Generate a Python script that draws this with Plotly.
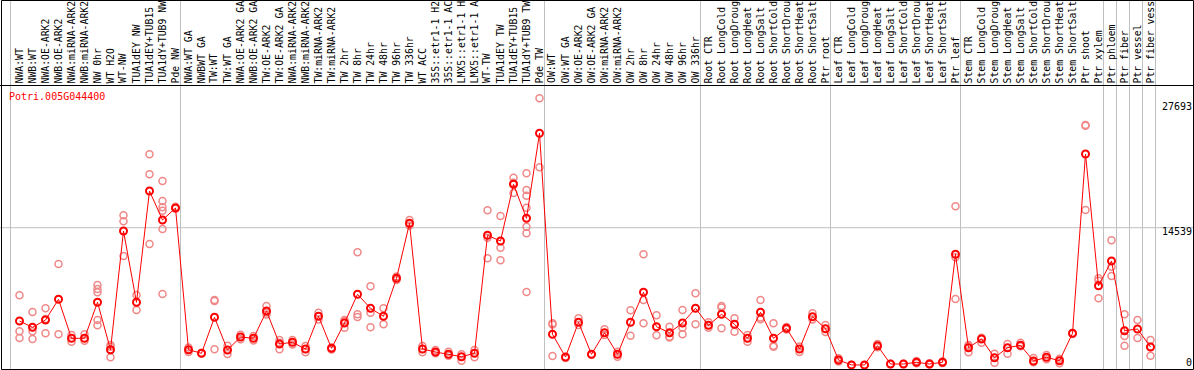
import plotly.graph_objects as go

categories = [
    "NWA:WT", "NWB:WT", "NWA:OE-ARK2", "NWB:OE-ARK2", "NWA:miRNA-ARK2", "NWB:miRNA-ARK2",
    "NW 0hr", "WT H2O", "WT-NW", "TUA1dEY NW", "TUA1dEY+TUB15 NW", "TUA1dY+TUB9 NW", "Pde NW",
    "NWA:WT GA", "NWBWT GA", "TW:WT", "TW:WT GA", "NWA:OE-ARK2 GA", "NWB:OE-ARK2 GA",
    "TW:OE-ARK2", "TW:OE-ARK2 GA", "NWA:miRNA-ARK2", "NWB:miRNA-ARK2", "TW:miRNA-ARK2",
    "TW:miRNA-ARK2", "TW 2hr", "TW 8hr", "TW 24hr", "TW 48hr", "TW 96hr", "TW 336hr",
    "WT ACC", "35S::etr1-1 H2O", "35S::etr1-1 ACC", "LMX5::etr1-1 H2O", "LMX5::etr1-1 ACC",
    "WT-TW", "TUA1dEY TW", "TUA1dEY+TUB15 TW", "TUA1dY+TUB9 TW", "Pde TW",
    "OW:WT", "OW:WT GA", "OW:OE-ARK2", "OW:OE-ARK2 GA", "OW:miRNA-ARK2", "OW:miRNA-ARK2",
    "OW 2hr", "OW 8hr", "OW 24hr", "OW 48hr", "OW 96hr", "OW 336hr",
    "Root CTR", "Root LongCold", "Root LongDrought", "Root LongHeat", "Root LongSalt",
    "Root ShortCold", "Root ShortDrought", "Root ShortHeat", "Root ShortSalt", "Ptr root",
    "Leaf CTR", "Leaf LongCold", "Leaf LongDrought", "Leaf LongHeat", "Leaf LongSalt",
    "Leaf ShortCold", "Leaf ShortDrought", "Leaf ShortHeat", "Leaf ShortSalt", "Ptr leaf",
    "Stem CTR", "Stem LongCold", "Stem LongDrought", "Stem LongHeat", "Stem LongSalt",
    "Stem ShortCold", "Stem ShortDrought", "Stem ShortHeat", "Stem ShortSalt",
    "Ptr shoot", "Ptr xylem", "Ptr phloem", "Ptr fiber", "Ptr vessel", "Ptr fiber vessel",
]

means = [
    4674, 4008, 4779, 6968, 2844, 2844, 6651, 1639, 14190, 6651, 18420, 15353, 16622,
    1639, 1258, 5065, 1607, 2982, 2844, 5731, 2242, 2421, 1713, 5171, 1787, 4462, 7497,
    6017, 5171, 9189, 15005, 1713, 1396, 1153, 899, 1258, 13736, 13133, 19128, 15533, 24521,
    3267, 867, 4536, 1153, 3437, 1153, 4536, 7708, 4071, 3437, 4462, 6017,
    4219, 5382, 4325, 2844, 5594, 2844, 3902, 1713, 5128, 3860,
    550, 30, 20, 2062, 127, 127, 307, 127, 307, 11727,
    1850, 2770, 793, 1850, 2104, 444, 835, 476, 3373, 22332, 8406, 11018, 3648, 3828, 1924,
]

replicates = [
    [7391, 3585, 2876], [5625, 3585, 2770], [6017, 4885, 3373], [10701, 3267],
    [3193, 2485], [3267, 2591], [8480, 8057, 7708, 4779, 4219], [1956, 835, 2125],
    [15851, 15216, 11547], [7423, 5837], [22301, 20186, 12816],
    [19477, 17362, 16696, 16337, 14402, 7529], [16760, 16569],
    [1396, 1872], [1258, 1290], [6894, 6788, 1681], [2062, 1184], [2739, 3225],
    [3088, 2612], [6260, 5361, 5572], [2665, 1681, 2380], [2665, 2189], [2030, 1364],
    [5551, 4832], [1872, 1660], [4779, 3965, 4640], [11938, 5382, 5097],
    [8343, 5551, 4008], [6017, 4325], [9379, 9009], [15353, 14772], [2030, 1364],
    [1607, 1258], [1427, 1005], [476, 1153], [1607, 835], [16379, 13482, 11304],
    [15776, 12424, 11092], [19826, 18208, 19300],
    [20291, 18526, 17923, 16654, 14645, 13947, 7740], [28222, 20926],
    [4431, 4300, 973], [867, 761], [4959, 4251], [1153, 1100], [3796, 3193],
    [899, 1427], [5805, 3119], [11727, 6894, 4431], [5276, 3162], [4071, 3014, 2929],
    [5837, 3965, 3267], [7603, 4325],
    [4536, 3965], [6260, 6101, 3902], [4959, 3542], [3193, 2485], [6894, 4853, 5035],
    [4431, 2062, 1956], [4039, 3775], [1396, 1977], [5488, 4832], [4251, 3511],
    [730, 391], [40, 0], [30, 0], [2242, 1900], [160, 90], [160, 90], [444, 200],
    [200, 80], [400, 220], [16802, 11409, 7000],
    [2136, 1364, 2050], [2379, 2900], [1216, 264], [2242, 1216], [2379, 2000],
    [761, 300], [1079, 624], [687, 201], [3373, 3300], [25325, 25399, 16411],
    [9189, 8935, 7074], [13207, 10415, 9432], [5382, 3088, 2062], [4779, 2876],
    [2665, 1005, 1924],
]

group_ends = [12, 40, 52, 62, 72, 83, 84, 85, 86, 87]
gene = "Potri.005G044400"
ytick_vals = [27693, 14539, 0]
LABEL_CHARS = 14   # the source chart cuts category names to 14 characters

W, H = 1194, 370
X0, DX = 19.5, 13.0          # pixel of first category, pixel step
Y0PX, UNIT = 365.2, 105.74   # pixel of value 0, value per pixel
x_lo = -X0 / DX
x_hi = (W - X0) / DX
y_hi = Y0PX * UNIT
y_lo = -(H - Y0PX) * UNIT


def py(p):
    return (H - p) / H


def px(p):
    return p / W


fig = go.Figure()

rx, ry = [], []
for i, r in enumerate(replicates):
    for v in r:
        rx.append(i)
        ry.append(v)

fig.add_trace(go.Scatter(
    x=rx, y=ry, mode="markers", hoverinfo="skip",
    marker=dict(symbol="circle-open", size=7, color="#F08888", line=dict(width=1.5, color="#F08888")),
))
fig.add_trace(go.Scatter(
    x=list(range(len(means))), y=means, mode="lines+markers",
    line=dict(color="#FF0000", width=1),
    marker=dict(symbol="circle-open", size=7, color="#FF0000", line=dict(width=2, color="#FF0000")),
))

shapes = []
gray = "#C0C0C0"
shapes.append(dict(type="line", xref="x", yref="paper", x0=(10.5 - X0) / DX, x1=(10.5 - X0) / DX,
                   y0=0, y1=1, line=dict(color=gray, width=1), layer="below"))
for g in group_ends:
    xs = g + 5.0 / DX
    shapes.append(dict(type="line", xref="x", yref="paper", x0=xs, x1=xs, y0=0, y1=1,
                       line=dict(color=gray, width=1), layer="below"))
shapes.append(dict(type="line", xref="paper", yref="y", x0=0, x1=1, y0=ytick_vals[1], y1=ytick_vals[1],
                   line=dict(color=gray, width=1), layer="below"))
shapes.append(dict(type="line", xref="paper", yref="paper", x0=0, x1=1, y0=py(85.5), y1=py(85.5),
                   line=dict(color="black", width=1)))
shapes.append(dict(type="rect", xref="paper", yref="paper", x0=px(1.5), x1=px(1193.5), y0=py(369.5), y1=py(0.5),
                   line=dict(color="black", width=1)))

annotations = []
for i, c in enumerate(categories):
    annotations.append(dict(
        x=i, xref="x", y=py(83.5), yref="paper", text=c[:LABEL_CHARS], showarrow=False,
        textangle=-90, xanchor="center", yanchor="bottom", xshift=-1,
        borderpad=0, borderwidth=0,
        font=dict(family="DejaVu Sans Mono", size=9.8, color="black"),
    ))
annotations.append(dict(
    x=px(9), xref="paper", y=py(96), yref="paper", text=gene, showarrow=False,
    xanchor="left", yanchor="middle", borderpad=0, borderwidth=0,
    font=dict(family="DejaVu Sans Mono", size=10, color="#FF0000"),
))
for v in ytick_vals:
    p = Y0PX - v / UNIT
    if v == 0:
        annotations.append(dict(x=px(1192), xref="paper", y=py(368.4), yref="paper", text=str(v),
                                showarrow=False, xanchor="right", yanchor="bottom", borderpad=0, borderwidth=0,
                                font=dict(family="DejaVu Sans Mono", size=10, color="black")))
    else:
        annotations.append(dict(x=px(1192), xref="paper", y=py(p - 2), yref="paper", text=str(v),
                                showarrow=False, xanchor="right", yanchor="top", borderpad=0, borderwidth=0,
                                font=dict(family="DejaVu Sans Mono", size=10, color="black")))

fig.update_layout(
    width=W, height=H, autosize=False,
    margin=dict(l=0, r=0, t=0, b=0, pad=0),
    paper_bgcolor="white", plot_bgcolor="white",
    showlegend=False,
    xaxis=dict(range=[x_lo, x_hi], visible=False, fixedrange=True),
    yaxis=dict(range=[y_lo, y_hi], visible=False, fixedrange=True),
    shapes=shapes, annotations=annotations,
)

fig.write_html(
    "out.html",
    config={"displayModeBar": False, "staticPlot": True},
    post_script="document.body.style.margin='0';document.body.style.overflow='hidden';",
)
